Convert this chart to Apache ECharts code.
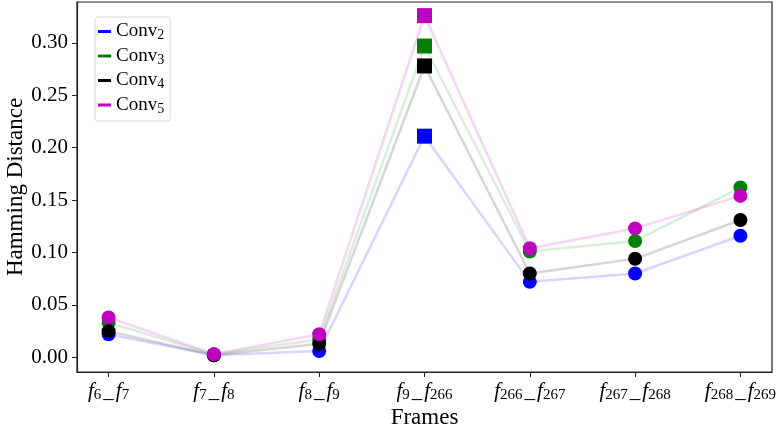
<!DOCTYPE html>
<html>
<head>
<meta charset="utf-8">
<script src="https://cdn.jsdelivr.net/npm/echarts@6/dist/echarts.min.js"></script>
<style>html,body{margin:0;padding:0;background:#fff}#c{width:778px;height:433px}</style>
</head>
<body>
<div id="c"></div>
<script>
const categories = [['6','7'],['7','8'],['8','9'],['9','266'],['266','267'],['267','268'],['268','269']];
const seriesNames = ['2','3','4','5'];
const conv2 = [0.022, 0.002, 0.006, 0.211, 0.072, 0.080, 0.116];
const conv3 = [0.033, 0.003, 0.017, 0.297, 0.101, 0.111, 0.162];
const conv4 = [0.025, 0.002, 0.013, 0.278, 0.080, 0.094, 0.131];
const conv5 = [0.038, 0.003, 0.022, 0.326, 0.104, 0.123, 0.154];
const yTicks = [0, 0.05, 0.10, 0.15, 0.20, 0.25, 0.30];

const colors = ['#0000ff', '#008000', '#000000', '#bf00bf'];
const lineColors = ['rgba(0,0,255,0.16)', 'rgba(0,128,0,0.14)', 'rgba(0,0,0,0.16)', 'rgba(191,0,191,0.16)'];
const allData = [conv2, conv3, conv4, conv5];
const FONT = 'Liberation Serif';

const chart = echarts.init(document.getElementById('c'));
const series = allData.map((arr, si) => ({
  name: 'Conv' + seriesNames[si],
  type: 'line',
  data: arr.map((v, i) => i === 3 ? {value: [i, v], symbol: 'rect', symbolSize: 15} : {value: [i, v]}),
  symbol: 'circle',
  symbolSize: 14,
  showAllSymbol: true,
  itemStyle: {color: colors[si]},
  lineStyle: {color: lineColors[si], width: 2.5},
  emphasis: {disabled: true},
  animation: false,
  z: 2 + si
}));

chart.setOption({
  animation: false,
  grid: {left: 77, top: 2, right: 6, bottom: 61, show: true, borderColor: '#222', borderWidth: 1.2, containLabel: false, outerBoundsMode: 'none'},
  legend: {
    orient: 'vertical', left: 95, top: 17,
    data: seriesNames.map((s, i) => ({name: 'Conv' + s, itemStyle: {color: colors[i]}, icon: 'rect'})),
    itemWidth: 13, itemHeight: 3, itemGap: 4,
    padding: [5, 6, 5, 3],
    borderColor: '#d8d8d8', borderWidth: 1, borderRadius: 3,
    backgroundColor: '#fff',
    formatter: n => 'Conv{s|' + n.slice(4) + '}',
    textStyle: {
      fontFamily: FONT, fontSize: 19, color: '#000',
      rich: {s: {fontFamily: FONT, fontSize: 14, padding: [8, 0, 0, 0], color: '#000'}}
    }
  },
  xAxis: {
    type: 'value', min: -0.3, max: 6.3,
    name: 'Frames', nameLocation: 'middle', nameGap: 34, nameMoveOverlap: false,
    nameTextStyle: {fontFamily: FONT, fontSize: 23, color: '#000'},
    axisLine: {show: true, onZero: false, lineStyle: {color: '#222', width: 1.2}},
    axisTick: {show: true, customValues: [0,1,2,3,4,5,6], length: 5, lineStyle: {color: '#222', width: 1}},
    splitLine: {show: false},
    axisLabel: {
      customValues: [0,1,2,3,4,5,6],
      margin: 7,
      formatter: v => {
        const c = categories[Math.round(v)];
        return '{f|f}{s|' + c[0] + '}{u|_}{f|f}{s|' + c[1] + '}';
      },
      rich: {
        f: {fontFamily: FONT, fontStyle: 'italic', fontSize: 21, color: '#000'},
        s: {fontFamily: FONT, fontSize: 15, padding: [9, 0, 0, 0], color: '#000'},
        u: {fontFamily: FONT, fontSize: 21, padding: [0, 2, 0, 2], color: '#000'}
      }
    }
  },
  yAxis: {
    type: 'value', min: -0.014, max: 0.339,
    name: 'Hamming Distance', nameLocation: 'middle', nameGap: 50, nameMoveOverlap: false,
    nameTextStyle: {fontFamily: FONT, fontSize: 23, color: '#000'},
    axisLine: {show: true, onZero: false, lineStyle: {color: '#222', width: 1.2}},
    axisTick: {show: true, customValues: yTicks, length: 5, lineStyle: {color: '#222', width: 1}},
    splitLine: {show: false},
    axisLabel: {
      customValues: yTicks, margin: 9,
      formatter: v => v.toFixed(2),
      fontFamily: FONT, fontSize: 21, color: '#000'
    }
  },
  series: series
});
</script>
</body>
</html>
